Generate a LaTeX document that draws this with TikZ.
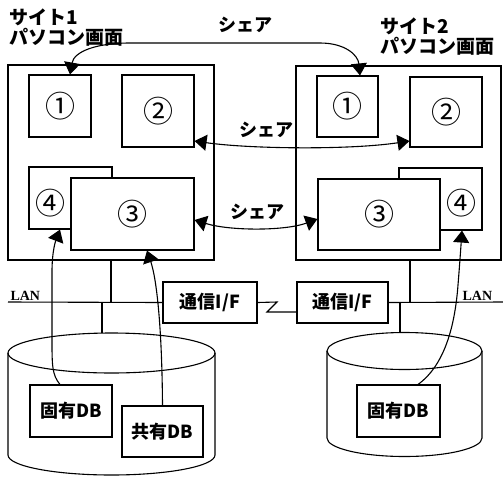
\documentclass[tikz,border=0pt]{standalone}
\usepackage{fontspec}
\newfontfamily\jp{Noto Sans CJK JP}
\newfontfamily\lanf{Liberation Serif}
\usetikzlibrary{arrows.meta}
\begin{document}
\begin{tikzpicture}[x=1pt,y=-1pt, line width=1.1pt,
  box/.style={draw, fill=white, inner sep=0pt, font=\jp\fontsize{30}{30}\selectfont},
  dbbox/.style={draw, fill=white, inner sep=0pt, font=\jp\bfseries\fontsize{18}{18}\selectfont},
  lbl/.style={inner sep=0pt, font=\jp\bfseries\fontsize{18}{18}\selectfont},
  num/.style={inner sep=0pt, font=\jp\fontsize{30}{30}\selectfont},
  sitelbl/.style={inner sep=0pt, anchor=north west, align=left, font=\jp\bfseries\fontsize{19}{20}\selectfont},
  lanlbl/.style={inner sep=0pt, anchor=base west, font=\lanf\bfseries\fontsize{14}{14}\selectfont},
  arr/.style={-{Triangle[width=16pt,length=12pt]}},
  biarr/.style={{Triangle[width=16pt,length=12pt]}-{Triangle[width=16pt,length=12pt]}},
]
\useasboundingbox (0,0) rectangle (503,477);

% site labels
\node[sitelbl] (site1) at (9,8) {サイト1\\パソコン画面};
\node[sitelbl] (site2) at (380,17) {サイト2\\パソコン画面};

% left screen
\node[box, minimum width=206pt, minimum height=195pt] (L) at (111,162.5) {};
\node[box, minimum width=62pt, minimum height=62pt] (L1) at (60,106) {①};
\node[box, minimum width=72pt, minimum height=72pt] (L2) at (158,111) {②};
\node[box, minimum width=83pt, minimum height=62pt] (L4) at (70.5,198) {};
\node[box, minimum width=123pt, minimum height=72pt] (L3) at (132.5,214) {③};
\node[num] (L4t) at (50,203) {④};

% right screen
\node[box, minimum width=205pt, minimum height=194pt] (R) at (398.5,163) {};
\node[box, minimum width=61pt, minimum height=61pt] (R1) at (347.5,106.5) {①};
\node[box, minimum width=72pt, minimum height=70pt] (R2) at (446,112) {②};
\node[box, minimum width=83pt, minimum height=62pt] (R4) at (440.5,199) {};
\node[box, minimum width=122pt, minimum height=71pt] (R3) at (379,214.5) {③};
\node[num] (R4t) at (461,203) {④};

% share labels
\node[lbl] (s0) at (245,25) {シェア};
\node[lbl] (s1) at (266,130) {シェア};
\node[lbl] (s2) at (257,212) {シェア};

% share arrows
\draw[biarr] ([xshift=10pt]L1.north) .. controls (74,52) and (95,43) .. (130,43)
  -- (320,43) .. controls (345,43) and (358,55) .. ([xshift=12.5pt]R1.north);
\draw[biarr] ([yshift=-30pt]L2.east) .. controls (250,149) and (350,150) .. ([yshift=-29pt]R2.west);
\draw[biarr] ([yshift=-6pt]L3.east) .. controls (230,231) and (285,231) .. ([yshift=-4.5pt]R3.west);

% communication interfaces
\node[dbbox, minimum width=94pt, minimum height=41pt] (IF1) at (210,302.5) {通信I/F};
\node[dbbox, minimum width=91pt, minimum height=41pt] (IF2) at (342.5,302.5) {通信I/F};
\coordinate (z1) at (277,302);
\coordinate (z2) at (267,312);
\draw (IF1.east) -- (z1) -- (z2) -- ([yshift=-9.5pt]IF2.west);

% LAN lines
\coordinate (lanL) at (8,302);
\coordinate (lanR) at (503,302);
\node[lanlbl] (lanLt) at (10,300.5) {LAN};
\node[lanlbl] (lanRt) at (462,300.5) {LAN};
\draw (lanL) -- (IF1.west);
\draw (IF2.east) -- (lanR);
\draw (L.south) -- (L.south |- lanL);
\draw ([xshift=11.5pt]R.south) -- ([xshift=11.5pt]R.south |- lanR);

% databases
\coordinate (dbL) at (102,333);
\coordinate (dbR) at (400,332.5);
\draw (dbL |- lanL) -- (dbL);
\draw (dbR |- lanR) -- (dbR);

\draw (111.5,353) ellipse [x radius=103.5, y radius=20];
\draw (8,353) -- (8,455) arc[start angle=180, end angle=0, x radius=103.5, y radius=20] -- (215,353);
\draw (404.5,351) ellipse [x radius=77.5, y radius=18.5];
\draw (327,351) -- (327,438) arc[start angle=180, end angle=0, x radius=77.5, y radius=18.5] -- (482,351);

\node[dbbox, minimum width=82pt, minimum height=52pt] (LK) at (71,411) {固有DB};
\node[dbbox, minimum width=81pt, minimum height=51pt] (LS) at (162.5,431.5) {共有DB};
\node[dbbox, minimum width=83pt, minimum height=52pt] (RK) at (398.5,411) {固有DB};

% DB to screen arrows
\draw[arr] ([xshift=-11pt]LK.north) .. controls (52,375) and (52,365) .. (52,340)
  -- (52,272) .. controls (52,250) and (56,240) .. ([xshift=-10.5pt]L4.south);
\draw[arr] (LS.north) .. controls (162,330) and (157,280) .. ([xshift=14.5pt]L3.south);
\draw[arr] ([xshift=19.5pt]RK.north) .. controls (445,365) and (455,325) .. (458,285)
  .. controls (460,260) and (461,245) .. ([xshift=21.5pt]R4.south);
\end{tikzpicture}
\end{document}
